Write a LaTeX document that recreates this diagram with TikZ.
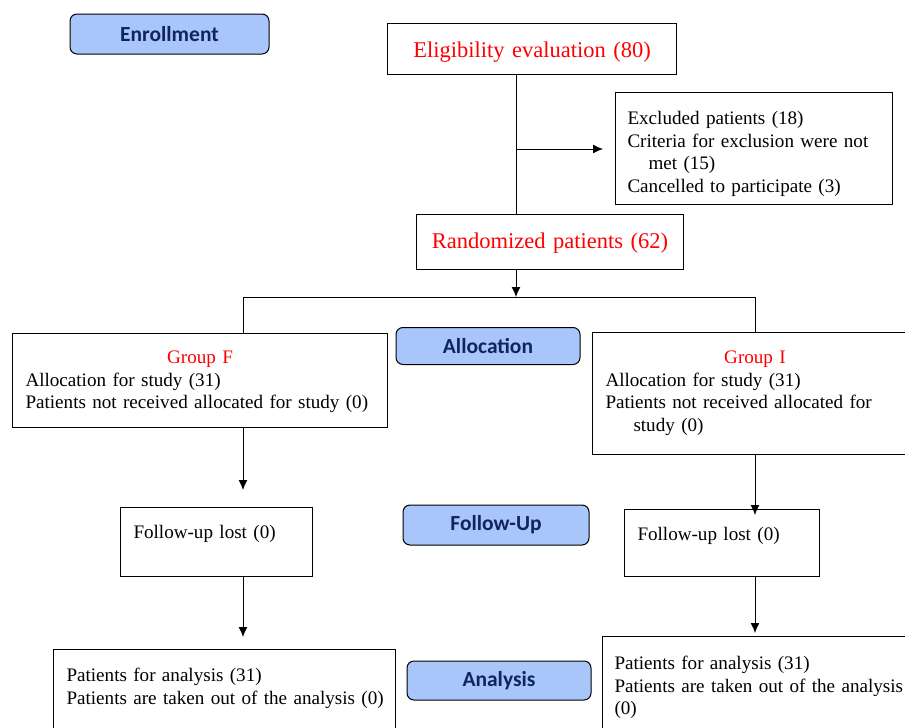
\documentclass[tikz,border=0pt]{standalone}
\usepackage{fontspec}
\setmainfont{Liberation Serif}
\newfontfamily\stagefont{Carlito}
\usetikzlibrary{arrows.meta}
\definecolor{stagefill}{RGB}{168,198,250}
\definecolor{stagetext}{RGB}{16,37,94}

\begin{document}
\begin{tikzpicture}
  [x=1pt,y=-1pt,line width=1pt,
   box/.style={draw,anchor=north west,inner xsep=12pt,inner ysep=0pt,align=left,
     font=\fontsize{19.1}{22.5}\selectfont},
   head/.style={box,inner xsep=0pt,align=center,text=red,
     font=\fontsize{22.5}{26}\selectfont},
   stage/.style={draw,rounded corners=7pt,fill=stagefill,text=stagetext,
     minimum height=39pt,font=\stagefont\bfseries\fontsize{21.5}{24}\selectfont},
   arr/.style={-{Latex[length=10pt,width=9pt]}}]
  \useasboundingbox (0,0) rectangle (905,728);

  % stages
  \node[stage,minimum width=199pt,minimum height=40pt] (enroll) at (169.5,34) {Enrollment};
  \node[stage,minimum width=184pt,minimum height=37pt] (alloc) at (488,346) {Allocation};
  \node[stage,minimum width=186pt,minimum height=40pt] (follow) at (496,525) {Follow-Up};
  \node[stage,minimum width=184pt] (anal) at (499,680.5) {Analysis};

  % boxes
  \node[head,text width=289pt,text height=34pt,text depth=17pt] (elig) at (387,23)
    {Eligibility evaluation (80)};
  \node[box,text width=253pt,text height=32pt,text depth=80pt] (excl) at (615,92)
    {Excluded patients (18)\\Criteria for exclusion were not\\\hspace*{21pt}met (15)\\Cancelled to participate (3)};
  \node[head,text width=267pt,text height=34pt,text depth=21pt] (rand) at (416,214)
    {Randomized patients (62)};
  \node[box,inner xsep=13pt,text width=349pt,text height=30pt,text depth=64pt] (grpF) at (12,333)
    {\centerline{\color{red}Group F}\\Allocation for study (31)\\Patients not received allocated for study (0)};
  \node[box,inner xsep=13pt,text width=299pt,text height=31pt,text depth=91pt] (grpI) at (592,332)
    {\centerline{\color{red}Group I}\\Allocation for study (31)\\Patients not received allocated for\\\hspace*{28pt}study (0)};
  \node[box,inner xsep=13pt,text width=166pt,text height=31pt,text depth=38pt] (followF) at (120,507)
    {Follow-up lost (0)};
  \node[box,inner xsep=13pt,text width=169pt,text height=31pt,text depth=36pt] (followI) at (624,509)
    {Follow-up lost (0)};
  \node[box,inner xsep=13pt,text width=316pt,text height=32pt,text depth=73pt] (analF) at (53,649)
    {Patients for analysis (31)\\\mbox{Patients are taken out of the analysis (0)}};
  \node[box,text width=299pt,text height=33pt,text depth=83pt] (analI) at (602,636)
    {Patients for analysis (31)\\Patients are taken out of the analysis\\(0)};

  % connectors
  \coordinate (split) at (516,149);
  \coordinate (hubF) at (243,297);
  \coordinate (hubI) at (755,297);
  \draw (elig.south -| split) -- (rand.north -| split);
  \draw[arr,shorten >=12pt] (split) -- (excl.west |- split);
  \draw[arr] (rand.south -| split) -- (split |- hubF);
  \draw (grpF.north -| hubF) -- (hubF) -- (hubI) -- (grpI.north -| hubI);
  \foreach \from/\to/\col/\gap in {grpF/followF/hubF/17pt,followF/analF/hubF/12pt,
                                   grpI/followI/hubI/-6pt,followI/analI/hubI/3pt}
    \draw[arr,shorten >=\gap] (\from.south -| \col) -- (\to.north -| \col);
\end{tikzpicture}
\end{document}
